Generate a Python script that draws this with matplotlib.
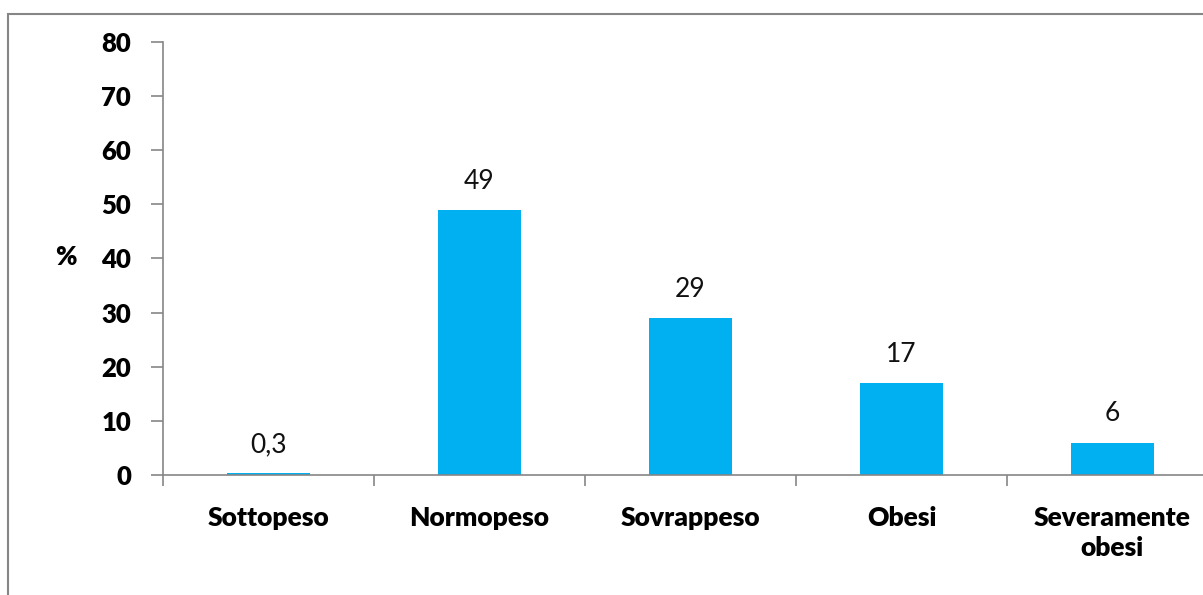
import matplotlib.pyplot as plt
from matplotlib.patches import Rectangle
import numpy as np

categorie = ['Sottopeso', 'Normopeso', 'Sovrappeso', 'Obesi', 'Severamente\nobesi']
valori = [0.3, 49, 29, 17, 6]
etichette = ['0,3', '49', '29', '17', '6']

plt.rcParams['font.family'] = ['Lato', 'DejaVu Sans']
grigio = '#868686'

fig = plt.figure(figsize=(12.03, 5.95), dpi=100)
# cornice del grafico (tagliata a destra e in basso come nell'originale)
fig.patches.append(Rectangle((8 / 1203, -0.1), 1.2, 0.9765 + 0.1, transform=fig.transFigure,
                             fill=False, edgecolor=grigio, linewidth=1.5))

ax = fig.add_axes([0.1355, 0.2017, 0.8769, 0.7277])
x = np.arange(len(categorie))
ax.bar(x, valori, width=0.39, color='#00B0F0')
for xi, v, t in zip(x, valori, etichette):
    ax.text(xi, v + 3.0, t, ha='center', va='bottom', fontsize=19, color='#111111')

ax.set_xlim(-0.5, len(categorie) - 0.5)
ax.set_ylim(0, 80)
ax.set_yticks(np.arange(0, 81, 10))
ax.set_yticklabels([str(v) for v in range(0, 81, 10)], fontsize=18.5, fontweight='heavy')
ax.set_xticks(x)
ax.set_xticklabels(categorie, fontsize=19, fontweight='heavy', linespacing=1.3, va='top')
ax.set_xticks(np.arange(-0.5, len(categorie), 1), minor=True)
ax.tick_params(axis='x', which='major', length=0, pad=22)
ax.tick_params(axis='x', which='minor', length=8, color=grigio, width=1.2)
ax.tick_params(axis='y', length=9, color=grigio, width=1.2, pad=14)
for s in ['top', 'right']:
    ax.spines[s].set_visible(False)
for s in ['left', 'bottom']:
    ax.spines[s].set_color(grigio)
    ax.spines[s].set_linewidth(1.2)

ax.set_ylabel('%', fontsize=18.5, fontweight='heavy', rotation=0, labelpad=0)
ax.yaxis.set_label_coords(-0.092, 0.475)

fig.savefig('out.png', dpi=100)
